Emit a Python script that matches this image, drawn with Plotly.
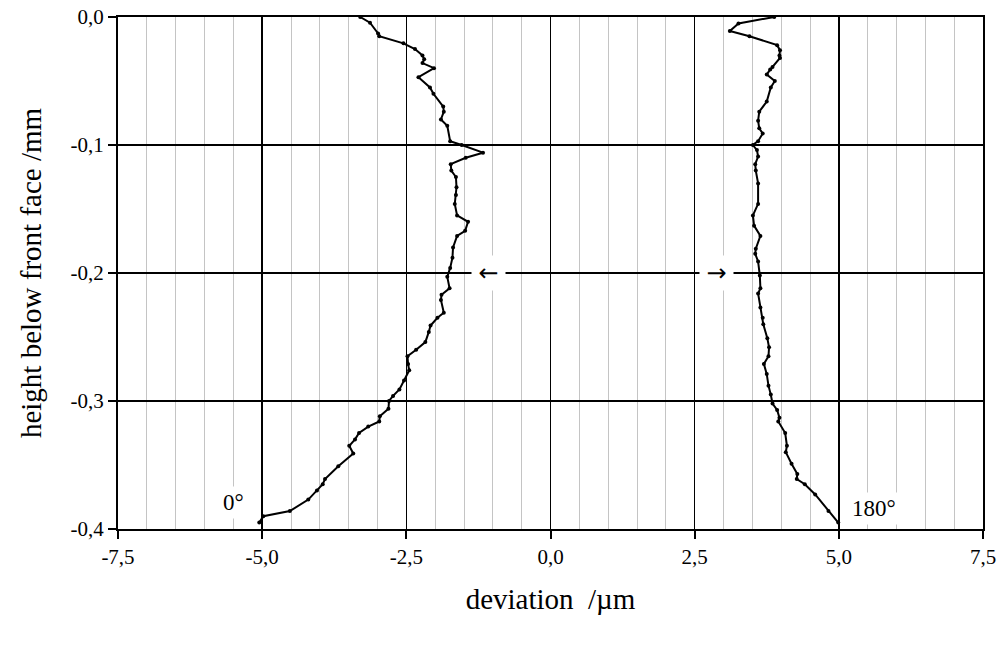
import plotly.graph_objects as go

# 0° profile
h0 = [0.000, -0.0045, -0.0128, -0.015, -0.0206, -0.025, -0.030, -0.033, -0.036, -0.040,
      -0.047, -0.055, -0.060, -0.070, -0.074, -0.080, -0.085, -0.097, -0.100, -0.106,
      -0.110, -0.115, -0.120, -0.125, -0.133, -0.139, -0.146, -0.155, -0.160, -0.167,
      -0.171, -0.180, -0.188, -0.196, -0.203, -0.212, -0.217, -0.221, -0.231, -0.235,
      -0.241, -0.246, -0.254, -0.260, -0.265, -0.271, -0.276, -0.284, -0.291, -0.296,
      -0.300, -0.306, -0.312, -0.316, -0.320, -0.325, -0.330, -0.335, -0.341, -0.351,
      -0.361, -0.365, -0.370, -0.377, -0.386, -0.390, -0.395]
d0 = [-3.30, -3.13, -2.99, -2.97, -2.55, -2.35, -2.22, -2.19, -2.22, -2.02,
      -2.29, -2.09, -2.03, -1.86, -1.85, -1.90, -1.79, -1.74, -1.54, -1.17,
      -1.47, -1.73, -1.72, -1.64, -1.63, -1.64, -1.66, -1.62, -1.43, -1.48,
      -1.62, -1.69, -1.70, -1.74, -1.79, -1.75, -1.89, -1.90, -1.85, -1.96,
      -2.08, -2.11, -2.17, -2.33, -2.48, -2.47, -2.45, -2.54, -2.62, -2.73,
      -2.80, -2.81, -2.96, -2.97, -3.16, -3.32, -3.39, -3.49, -3.42, -3.68,
      -3.91, -3.95, -4.05, -4.20, -4.52, -4.98, -5.05]

# 180° profile
h180 = [0.000, -0.005, -0.011, -0.015, -0.022, -0.026, -0.030, -0.032, -0.039, -0.041,
        -0.045, -0.050, -0.055, -0.066, -0.074, -0.081, -0.087, -0.091, -0.097, -0.100,
        -0.104, -0.109, -0.115, -0.120, -0.130, -0.146, -0.155, -0.163, -0.171, -0.181,
        -0.185, -0.191, -0.202, -0.212, -0.216, -0.227, -0.235, -0.240, -0.251, -0.258,
        -0.265, -0.271, -0.279, -0.288, -0.295, -0.302, -0.307, -0.313, -0.316, -0.325,
        -0.335, -0.340, -0.349, -0.357, -0.361, -0.365, -0.373, -0.386, -0.395]
d180 = [3.88, 3.26, 3.11, 3.45, 3.93, 3.98, 3.97, 3.98, 3.85, 3.81,
        3.75, 3.89, 3.82, 3.75, 3.62, 3.60, 3.62, 3.68, 3.60, 3.51,
        3.58, 3.60, 3.55, 3.56, 3.60, 3.60, 3.51, 3.53, 3.64, 3.56,
        3.55, 3.60, 3.63, 3.64, 3.60, 3.64, 3.68, 3.69, 3.76, 3.79,
        3.78, 3.70, 3.75, 3.78, 3.82, 3.85, 3.93, 3.97, 3.95, 4.07,
        4.10, 4.08, 4.18, 4.28, 4.27, 4.41, 4.59, 4.82, 4.99]

x_tick_vals = [-7.5, -5.0, -2.5, 0.0, 2.5, 5.0, 7.5]
x_tick_text = ["-7,5", "-5,0", "-2,5", "0,0", "2,5", "5,0", "7,5"]
y_tick_vals = [0.0, -0.1, -0.2, -0.3, -0.4]
y_tick_text = ["0,0", "-0,1", "-0,2", "-0,3", "-0,4"]

FONT = "Liberation Serif, Times New Roman, serif"

fig = go.Figure()
for xs, ys in ((d0, h0), (d180, h180)):
    fig.add_trace(go.Scatter(
        x=xs, y=ys, mode="lines+markers",
        line=dict(color="black", width=2),
        marker=dict(color="black", size=4),
        showlegend=False, hoverinfo="skip"))

fig.update_layout(
    width=1002, height=649,
    margin=dict(l=118, r=19, t=17, b=120),
    paper_bgcolor="white", plot_bgcolor="white",
    font=dict(family=FONT, color="black", size=22),
)

fig.update_xaxes(
    range=[-7.5, 7.5], tickmode="array", tickvals=x_tick_vals, ticktext=x_tick_text,
    showline=True, linecolor="black", linewidth=2, mirror=True,
    ticks="outside", ticklen=8, tickwidth=2, tickcolor="black",
    showgrid=True, gridcolor="black", gridwidth=1.5,
    zeroline=False, ticklabeloverflow="allow", automargin=False,
    minor=dict(tick0=0, dtick=0.5, showgrid=True, gridcolor="#c4c4c4", gridwidth=1, ticks=""),
    tickfont=dict(size=21, family=FONT),
    title=dict(text="deviation  /µm", font=dict(size=29, family=FONT), standoff=20),
)
fig.update_yaxes(
    range=[-0.4, 0.0], tickmode="array", tickvals=y_tick_vals, ticktext=y_tick_text,
    showline=True, linecolor="black", linewidth=2, mirror=True,
    ticks="outside", ticklen=8, tickwidth=2, tickcolor="black",
    showgrid=True, gridcolor="black", gridwidth=1.5,
    zeroline=False, ticklabeloverflow="allow", automargin=False,
    tickfont=dict(size=21, family=FONT),
    title=dict(text="height below front face /mm", font=dict(size=29, family=FONT), standoff=20),
)

labels = [("0°", -5.5, -0.379), ("180°", 5.61, -0.384)]
for txt, xv, yv in labels:
    fig.add_annotation(x=xv, y=yv, text=txt, showarrow=False,
                       font=dict(size=23, family=FONT, color="black"),
                       bgcolor="white", borderpad=3)

arrows = [("←", -1.08, -0.2), ("→", 2.87, -0.2)]
for txt, xv, yv in arrows:
    fig.add_annotation(x=xv, y=yv, text=txt, showarrow=False,
                       font=dict(size=24, family="DejaVu Sans", color="black"),
                       bgcolor="white", width=25, height=26, borderpad=4)

fig.write_html("out.html", config={"displayModeBar": False, "staticPlot": True},
               post_script="document.body.style.margin='0';")
